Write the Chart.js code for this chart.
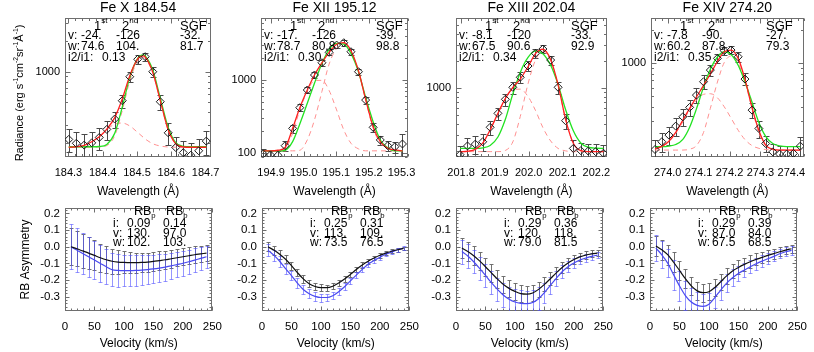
<!DOCTYPE html>
<html>
<head>
<meta charset="utf-8">
<title>EIS line profiles and RB asymmetry</title>
<script src="https://cdn.jsdelivr.net/npm/chart.js@4.4.1/dist/chart.umd.min.js"></script>
<style>
  body { margin: 0; background: #fff; }
  #wrap { position: relative; width: 814px; height: 352px; overflow: hidden; background: #fff; }
  #wrap canvas { position: absolute; }
</style>
</head>
<body>
<div id="wrap"></div>
<script>
// line names
var lineNames = ['Fe X 184.54', 'Fe XII 195.12', 'Fe XIII 202.04', 'Fe XIV 274.20'];

// ---- top row: observed profiles (wavelength A, radiance) ----
var wl1 = [184.301, 184.323, 184.346, 184.368, 184.390, 184.412, 184.435, 184.457, 184.479, 184.502, 184.524, 184.546, 184.568, 184.591, 184.613, 184.635, 184.657, 184.680, 184.702];
var rad1 = [217, 199, 191, 201, 227, 272, 344, 520, 893, 1324, 1403, 1000, 508, 252, 181, 161, 152, 168, 209];
var err1 = [55, 55, 55, 55, 55, 58, 62, 75, 105, 125, 130, 110, 82, 60, 50, 50, 50, 50, 55];
var fitWl1 = [184.301, 184.323, 184.346, 184.368, 184.390, 184.412, 184.435, 184.457, 184.479, 184.502, 184.518, 184.524, 184.546, 184.568, 184.591, 184.613, 184.635, 184.657, 184.680, 184.702];
var dgf1 = [182, 184, 190, 206, 230, 274, 355, 540, 915, 1335, 1430, 1400, 990, 520, 270, 197, 183, 182, 182, 182];
var sgf1 = [184, 184, 184, 184, 185, 194, 249, 450, 880, 1350, 1460, 1425, 1040, 550, 285, 202, 186, 184, 184, 184];
var cmpA1 = [182, 182, 182, 182, 183, 189, 236, 415, 814, 1279, 1382, 1346, 968, 516, 266, 196, 183, 182, 182, 182];
var cmpB1 = [182, 184, 190, 206, 234, 272, 306, 314, 294, 254, 228, 219, 197, 187, 183, 182, 182, 182, 182, 182];

var wl2 = [194.876, 194.898, 194.921, 194.943, 194.966, 194.988, 195.011, 195.033, 195.056, 195.078, 195.101, 195.123, 195.145, 195.168, 195.190, 195.213, 195.235, 195.258, 195.280, 195.303];
var rad2 = [98, 95, 94, 127, 219, 419, 731, 1170, 1721, 2387, 3000, 3228, 2433, 1298, 533, 226, 152, 127, 123, 134];
var err2 = [15, 14, 14, 18, 28, 45, 75, 110, 150, 200, 250, 270, 210, 120, 60, 30, 22, 20, 21, 50];
var dgf2 = [108, 108, 110, 120, 219, 419, 731, 1170, 1721, 2387, 3070, 3228, 2512, 1340, 546, 231, 144, 117, 111, 108];
var sgf2 = [108, 108, 108, 110, 144, 251, 481, 902, 1690, 2625, 3165, 3100, 2312, 1298, 580, 270, 152, 119, 108, 108];
var cmpA2 = [108, 108, 108, 108, 108, 110, 152, 285, 700, 1650, 2705, 3165, 2433, 1340, 533, 219, 137, 115, 108, 108];
var cmpB2 = [108, 108, 108, 115, 187, 390, 700, 980, 990, 720, 390, 208, 137, 115, 108, 108, 108, 108, 108, 108];

var wl3 = [201.797, 201.819, 201.842, 201.864, 201.886, 201.909, 201.931, 201.953, 201.975, 201.998, 202.020, 202.042, 202.065, 202.087, 202.109, 202.132, 202.154, 202.176, 202.198, 202.221];
var rad3 = [183, 229, 240, 255, 369, 527, 755, 1026, 1325, 1769, 2448, 2733, 2061, 1026, 437, 215, 203, 201, 198, 190];
var err3 = [45, 55, 55, 55, 65, 85, 120, 160, 190, 230, 280, 290, 250, 160, 85, 50, 45, 42, 42, 42];
var dgf3 = [198, 200, 210, 246, 345, 528, 774, 1021, 1266, 1734, 2428, 2716, 2081, 1096, 455, 245, 203, 198, 198, 198];
var sgf3 = [215, 215, 215, 218, 232, 288, 453, 864, 1503, 2202, 2603, 2424, 1801, 1099, 582, 337, 247, 222, 216, 215];
var cmpA3 = [198, 198, 198, 198, 198, 198, 204, 254, 485, 1121, 2057, 2548, 2019, 1079, 451, 245, 203, 198, 198, 198];
var cmpB3 = [198, 200, 210, 246, 345, 528, 768, 965, 979, 811, 569, 366, 260, 215, 202, 198, 198, 198, 198, 198];

var wl4 = [273.959, 273.981, 274.004, 274.026, 274.049, 274.071, 274.093, 274.116, 274.138, 274.161, 274.183, 274.205, 274.228, 274.250, 274.273, 274.295, 274.317, 274.340, 274.362, 274.385, 274.407, 274.429];
var rad4 = [165, 194, 223, 269, 327, 398, 515, 681, 869, 1110, 1303, 1321, 1148, 720, 376, 256, 187, 157, 150, 150, 152, 177];
var err4 = [35, 38, 42, 48, 60, 68, 80, 95, 105, 112, 118, 115, 110, 90, 58, 45, 32, 28, 26, 26, 27, 37];
var dgf4 = [167, 176, 196, 236, 305, 390, 495, 630, 800, 1040, 1275, 1321, 1110, 717, 395, 245, 181, 166, 163, 163, 163, 163];
var sgf4 = [175, 175, 177, 183, 204, 263, 386, 608, 885, 1142, 1275, 1202, 961, 680, 443, 290, 217, 187, 178, 175, 175, 175];
var cmpA4 = [163, 163, 163, 163, 163, 166, 179, 236, 390, 677, 1018, 1166, 1005, 677, 390, 232, 179, 166, 163, 163, 163, 163];
var cmpB4 = [167, 175, 194, 232, 294, 379, 463, 523, 530, 486, 403, 318, 247, 203, 179, 169, 165, 163, 163, 163, 163, 163];

// fit parameters printed in the panels
var firstV = ['-24.', '-17.', '-8.1', '-7.8'];
var secondV = ['-126', '-126', '-120', '-90.'];
var sgfV = ['-32.', '-39.', '-33.', '-27.'];
var firstW = ['74.6', '78.7', '67.5', '60.2'];
var secondW = ['104.', '80.8', '90.6', '87.8'];
var sgfW = ['81.7', '98.8', '92.9', '79.3'];
var ratio = ['0.13', '0.30', '0.34', '0.35'];

// axis ranges, top row
var xMinTop = [184.29, 194.869, 201.785, 273.946];
var xMaxTop = [184.716, 195.32, 202.231, 274.44];
var xTicksTop = [[184.3, 184.4, 184.5, 184.6, 184.7], [194.9, 195.0, 195.1, 195.2, 195.3],
                 [201.8, 201.9, 202.0, 202.1, 202.2], [274.0, 274.1, 274.2, 274.3, 274.4]];
var yMinTop = [146, 89, 172.6, 141];
var yMaxTop = [3359, 7020, 6040, 2583];
var yTicksTop = [[1000], [100, 1000], [1000], [1000]];

// ---- bottom row: RB asymmetry vs velocity ----
var vel = [10, 20, 30, 40, 50, 60, 70, 80, 90, 100, 110, 120, 130, 140, 150, 160, 170, 180, 190, 200, 210, 220, 230, 240];
var rbBlack1 = [0.0, -0.012, -0.025, -0.038, -0.052, -0.066, -0.078, -0.087, -0.092, -0.094, -0.095, -0.095, -0.094, -0.092, -0.088, -0.083, -0.078, -0.072, -0.066, -0.06, -0.054, -0.048, -0.043, -0.038];
var rbBlue1 = [0.0, -0.02, -0.04, -0.06, -0.08, -0.1, -0.12, -0.138, -0.142, -0.143, -0.143, -0.142, -0.14, -0.137, -0.133, -0.128, -0.122, -0.115, -0.107, -0.099, -0.09, -0.08, -0.07, -0.06];
var rbBlackErr1 = [0.11, 0.105, 0.1, 0.095, 0.09, 0.085, 0.08, 0.075, 0.07, 0.066, 0.063, 0.06, 0.058, 0.057, 0.056, 0.055, 0.054, 0.053, 0.052, 0.051, 0.05, 0.05, 0.05, 0.05];
var rbBlueErr1 = [0.135, 0.13, 0.125, 0.12, 0.115, 0.11, 0.105, 0.1, 0.097, 0.095, 0.093, 0.091, 0.089, 0.087, 0.085, 0.083, 0.081, 0.079, 0.077, 0.075, 0.073, 0.071, 0.069, 0.067];

var rbBlack2 = [0.0, -0.02, -0.045, -0.075, -0.113, -0.155, -0.193, -0.222, -0.239, -0.246, -0.246, -0.237, -0.218, -0.194, -0.166, -0.137, -0.11, -0.087, -0.068, -0.051, -0.038, -0.027, -0.018, -0.01];
var rbBlue2 = [-0.02, -0.05, -0.087, -0.132, -0.173, -0.218, -0.257, -0.282, -0.298, -0.305, -0.305, -0.294, -0.27, -0.24, -0.205, -0.17, -0.136, -0.105, -0.082, -0.063, -0.045, -0.032, -0.018, -0.008];
var rbBlackErr2 = [0.028, 0.027, 0.026, 0.025, 0.024, 0.023, 0.022, 0.021, 0.02, 0.02, 0.019, 0.019, 0.018, 0.018, 0.017, 0.016, 0.016, 0.015, 0.014, 0.014, 0.013, 0.012, 0.012, 0.011];
var rbBlueErr2 = [0.035, 0.033, 0.032, 0.03, 0.029, 0.028, 0.027, 0.026, 0.025, 0.024, 0.023, 0.022, 0.021, 0.02, 0.019, 0.018, 0.017, 0.016, 0.015, 0.014, 0.013, 0.012, 0.011, 0.01];

var rbBlack3 = [-0.008, -0.029, -0.054, -0.085, -0.12, -0.157, -0.193, -0.225, -0.25, -0.268, -0.282, -0.285, -0.278, -0.256, -0.226, -0.192, -0.157, -0.125, -0.098, -0.077, -0.061, -0.05, -0.043, -0.038];
var rbBlue3 = [-0.029, -0.055, -0.09, -0.13, -0.172, -0.216, -0.255, -0.29, -0.315, -0.332, -0.34, -0.342, -0.335, -0.312, -0.275, -0.232, -0.19, -0.15, -0.12, -0.097, -0.08, -0.068, -0.058, -0.05];
var rbBlackErr3 = [0.06, 0.058, 0.056, 0.055, 0.054, 0.053, 0.053, 0.052, 0.052, 0.052, 0.052, 0.05, 0.048, 0.045, 0.042, 0.038, 0.035, 0.032, 0.029, 0.026, 0.024, 0.022, 0.021, 0.02];
var rbBlueErr3 = [0.072, 0.07, 0.069, 0.068, 0.068, 0.068, 0.07, 0.072, 0.075, 0.078, 0.08, 0.078, 0.074, 0.068, 0.06, 0.052, 0.045, 0.038, 0.032, 0.028, 0.025, 0.023, 0.022, 0.02];

var rbBlack4 = [0.005, -0.018, -0.047, -0.093, -0.142, -0.192, -0.235, -0.265, -0.276, -0.27, -0.245, -0.21, -0.175, -0.145, -0.124, -0.106, -0.09, -0.076, -0.064, -0.052, -0.041, -0.03, -0.02, -0.012];
var rbBlue4 = [-0.008, -0.048, -0.098, -0.168, -0.235, -0.293, -0.332, -0.352, -0.358, -0.345, -0.305, -0.26, -0.218, -0.186, -0.16, -0.14, -0.12, -0.102, -0.086, -0.072, -0.058, -0.042, -0.03, -0.022];
var rbBlackErr4 = [0.06, 0.06, 0.06, 0.06, 0.058, 0.056, 0.055, 0.054, 0.053, 0.052, 0.05, 0.048, 0.046, 0.044, 0.042, 0.04, 0.038, 0.036, 0.034, 0.032, 0.03, 0.028, 0.026, 0.025];
var rbBlueErr4 = [0.08, 0.08, 0.085, 0.09, 0.09, 0.088, 0.085, 0.08, 0.075, 0.07, 0.065, 0.06, 0.055, 0.05, 0.046, 0.042, 0.04, 0.037, 0.034, 0.032, 0.03, 0.028, 0.026, 0.025];

// RB fit numbers printed in the panels
var rbI = [['0.09', '0.14'], ['0.25', '0.31'], ['0.29', '0.36'], ['0.29', '0.39']];
var rbV = [['130.', '97.0'], ['113.', '109.'], ['120.', '118.'], ['87.0', '84.0']];
var rbW = [['102.', '103.'], ['73.5', '76.5'], ['79.0', '81.5'], ['67.5', '68.5']];

var velTicks = [0, 50, 100, 150, 200, 250];
var rbTicks = [0.2, 0.1, 0.0, -0.1, -0.2, -0.3];
var rbMin = -0.386, rbMax = 0.233;

// grouped for the loops below
var wls = [wl1, wl2, wl3, wl4], rads = [rad1, rad2, rad3, rad4], errs = [err1, err2, err3, err4];
var fitWls = [fitWl1, wl2, wl3, wl4];
var dgfs = [dgf1, dgf2, dgf3, dgf4], sgfs = [sgf1, sgf2, sgf3, sgf4];
var cmpAs = [cmpA1, cmpA2, cmpA3, cmpA4], cmpBs = [cmpB1, cmpB2, cmpB3, cmpB4];
var rbBlacks = [rbBlack1, rbBlack2, rbBlack3, rbBlack4], rbBlues = [rbBlue1, rbBlue2, rbBlue3, rbBlue4];
var rbBlackErrs = [rbBlackErr1, rbBlackErr2, rbBlackErr3, rbBlackErr4];
var rbBlueErrs = [rbBlueErr1, rbBlueErr2, rbBlueErr3, rbBlueErr4];

// panel boxes on the page
var topLeft = [65, 261, 456, 651], topW = 156;
var botLeft = [65, 262, 456, 650], botW = 158;

var FONT = '"Liberation Sans", Arial, Helvetica, sans-serif';
Chart.defaults.font.family = FONT;
Chart.defaults.color = '#000';

function pts(xs, ys) {
    var out = [];
    for (var i = 0; i < xs.length; i++) out.push({x: xs[i], y: ys[i]});
    return out;
}

function makeCanvas(left, top, w, h) {
    var c = document.createElement('canvas');
    c.width = w; c.height = h;
    c.style.left = left + 'px'; c.style.top = top + 'px';
    c.style.width = w + 'px'; c.style.height = h + 'px';
    document.getElementById('wrap').appendChild(c);
    return c;
}

// minor tick positions
function stepTicks(min, max, step) {
    var out = [];
    for (var k = Math.ceil(min / step - 1e-6); k * step <= max + 1e-9; k++) out.push(k * step);
    return out;
}
function logTicks(min, max) {
    var out = [];
    for (var e = Math.floor(Math.log10(min)); e <= Math.ceil(Math.log10(max)); e++) {
        for (var m = 1; m < 10; m++) {
            var v = m * Math.pow(10, e);
            if (v >= min && v <= max) out.push(v);
        }
    }
    return out;
}

// text with super/subscripts, left aligned, middle baseline
function drawRich(ctx, parts, x, y, size) {
    var cx = x;
    parts.forEach(function(p) {
        var small = p.sup || p.sub;
        ctx.font = (small ? size * 0.62 : size) + 'px ' + FONT;
        var dy = p.sup ? -size * 0.38 : (p.sub ? size * 0.3 : 0);
        ctx.fillText(p.t, cx, y + dy);
        cx += ctx.measureText(p.t).width;
    });
    return cx - x;
}
function richWidth(ctx, parts, size) {
    var w = 0;
    parts.forEach(function(p) {
        ctx.font = ((p.sup || p.sub) ? size * 0.62 : size) + 'px ' + FONT;
        w += ctx.measureText(p.t).width;
    });
    return w;
}

// box with inward ticks on all four sides (IDL style)
function framePlugin(f) {
    return {
        id: 'frame',
        beforeDatasetsDraw: function(chart) {
            var a = chart.chartArea, ctx = chart.ctx, xs = chart.scales.x, ys = chart.scales.y;
            var L = Math.round(a.left) + 0.5, R = Math.round(a.right) - 0.5;
            var T = Math.round(a.top) + 0.5, B = Math.round(a.bottom) - 0.5;
            ctx.save();
            ctx.strokeStyle = '#6e6e6e';
            ctx.lineWidth = 1;
            ctx.strokeRect(L, T, R - L, B - T);
            ctx.beginPath();
            function xt(v, len) {
                var p = Math.round(xs.getPixelForValue(v)) + 0.5;
                ctx.moveTo(p, B); ctx.lineTo(p, B - len);
                ctx.moveTo(p, T); ctx.lineTo(p, T + len);
            }
            function yt(v, len) {
                var p = Math.round(ys.getPixelForValue(v)) + 0.5;
                ctx.moveTo(L, p); ctx.lineTo(L + len, p);
                ctx.moveTo(R, p); ctx.lineTo(R - len, p);
            }
            f.xMinor.forEach(function(v) { xt(v, f.minorLen); });
            f.xMajor.forEach(function(v) { xt(v, f.majorLen); });
            f.yMinor.forEach(function(v) { yt(v, f.minorLen); });
            f.yMajor.forEach(function(v) { yt(v, f.majorLen); });
            ctx.stroke();
            ctx.restore();
        }
    };
}

// vertical error bars from dataset.errors
var errPlugin = {
    id: 'errbars',
    beforeDatasetsDraw: function(chart) {
        var a = chart.chartArea, ctx = chart.ctx, xs = chart.scales.x, ys = chart.scales.y;
        ctx.save();
        ctx.beginPath();
        ctx.rect(a.left, a.top, a.right - a.left, a.bottom - a.top);
        ctx.clip();
        chart.data.datasets.forEach(function(ds) {
            if (!ds.errors) return;
            ctx.strokeStyle = ds.errColor;
            ctx.lineWidth = 1;
            ctx.beginPath();
            ds.data.forEach(function(p, j) {
                var px = Math.round(xs.getPixelForValue(p.x)) + 0.5;
                var hi = Math.round(ys.getPixelForValue(p.y + ds.errors[j])) + 0.5;
                var lo = Math.round(ys.getPixelForValue(p.y - ds.errors[j])) + 0.5;
                ctx.moveTo(px, hi); ctx.lineTo(px, lo);
                ctx.moveTo(px - ds.capHalf, hi); ctx.lineTo(px + ds.capHalf, hi);
                ctx.moveTo(px - ds.capHalf, lo); ctx.lineTo(px + ds.capHalf, lo);
            });
            ctx.stroke();
        });
        ctx.restore();
    }
};

// printed numbers inside the boxes (+ rotated y label when needed)
function notePlugin(rows, rotated) {
    return {
        id: 'notes',
        afterDraw: function(chart) {
            var a = chart.chartArea, ctx = chart.ctx;
            ctx.save();
            ctx.fillStyle = '#000';
            ctx.textAlign = 'left';
            ctx.textBaseline = 'middle';
            rows.forEach(function(r) {
                drawRich(ctx, r.parts, a.left + r.x, a.top + r.y, r.s || 12);
            });
            if (rotated) {
                var w = richWidth(ctx, rotated.parts, rotated.s);
                ctx.translate(rotated.x, rotated.y);
                ctx.rotate(-Math.PI / 2);
                drawRich(ctx, rotated.parts, -w / 2, 0, rotated.s);
            }
            ctx.restore();
        }
    };
}

function txt(x, y, t, s) { return {x: x, y: y, s: s, parts: [{t: t}]}; }

// ---- top row ----
for (var i = 0; i < 4; i++) {
    (function(i) {
        var cv = makeCanvas(topLeft[i] - 64, 0, 64 + topW + 8, 205);
        var rows = [
            {x: 29, y: 8, s: 13, parts: [{t: '1'}, {t: 'st', sup: true}]},
            {x: 57, y: 8, s: 13, parts: [{t: '2'}, {t: 'nd', sup: true}]},
            txt(115, 8, 'SGF', 13),
            txt(3, 18, 'v:'), txt(16, 18, firstV[i]), txt(51, 18, secondV[i]), txt(115, 18, sgfV[i]),
            txt(3, 28.5, 'w:'), txt(16, 28.5, firstW[i]), txt(51, 28.5, secondW[i]), txt(115, 28.5, sgfW[i]),
            txt(3, 39.5, 'i2/i1:'), txt(37, 39.5, ratio[i])
        ];
        var ylab = null;
        if (i === 0) {
            ylab = {x: 19, y: 93, s: 11, parts: [{t: 'Radiance (erg s'}, {t: '-1', sup: true}, {t: 'cm'}, {t: '-2', sup: true},
                {t: 'sr'}, {t: '-1', sup: true}, {t: 'Å'}, {t: '-1', sup: true}, {t: ')'}]};
        }
        var frame = {
            xMajor: xTicksTop[i], xMinor: stepTicks(xMinTop[i], xMaxTop[i], 0.02),
            yMajor: yTicksTop[i], yMinor: logTicks(yMinTop[i], yMaxTop[i]),
            majorLen: 5, minorLen: 2.5
        };
        new Chart(cv, {
            type: 'scatter',
            data: {
                datasets: [
                    {
                        label: 'Observed', data: pts(wls[i], rads[i]), errors: errs[i], errColor: '#4a4a4a', capHalf: 3,
                        pointStyle: 'rectRot', pointRadius: 4, borderColor: '#1a1a1a', borderWidth: 1,
                        backgroundColor: 'rgba(255,255,255,0)', order: 0
                    },
                    {
                        label: 'Double Gaussian', data: pts(fitWls[i], dgfs[i]), showLine: true, pointRadius: 0,
                        borderColor: '#ff2020', borderWidth: 1.3, cubicInterpolationMode: 'monotone', order: 1
                    },
                    {
                        label: 'SGF', data: pts(fitWls[i], sgfs[i]), showLine: true, pointRadius: 0,
                        borderColor: '#22e322', borderWidth: 1.3, cubicInterpolationMode: 'monotone', order: 2
                    },
                    {
                        label: '1st', data: pts(fitWls[i], cmpAs[i]), showLine: true, pointRadius: 0,
                        borderColor: '#ff9090', borderWidth: 1, borderDash: [5, 4], cubicInterpolationMode: 'monotone', order: 3
                    },
                    {
                        label: '2nd', data: pts(fitWls[i], cmpBs[i]), showLine: true, pointRadius: 0,
                        borderColor: '#ff9090', borderWidth: 1, borderDash: [5, 4], cubicInterpolationMode: 'monotone', order: 3
                    }
                ]
            },
            options: {
                responsive: false,
                animation: false,
                events: [],
                layout: {padding: {left: 0, right: 8, top: 0, bottom: 0}},
                plugins: {
                    legend: {display: false},
                    tooltip: {enabled: false},
                    title: {
                        display: true, text: lineNames[i], fullSize: false,
                        font: {size: 14, weight: 'normal'}, padding: {top: 0, bottom: 1.2}
                    }
                },
                scales: {
                    x: {
                        type: 'linear', min: xMinTop[i], max: xMaxTop[i],
                        afterBuildTicks: function(s) { s.ticks = xTicksTop[i].map(function(v) { return {value: v}; }); },
                        afterFit: function(s) { s.height = 48; },
                        grid: {display: false, drawTicks: false},
                        border: {display: false},
                        ticks: {padding: 9, autoSkip: false, maxRotation: 0, font: {size: 11},
                                callback: function(v) { return v.toFixed(1); }},
                        title: {display: true, text: 'Wavelength (Å)', font: {size: 12}, padding: {top: 0, bottom: 6}}
                    },
                    y: {
                        type: 'logarithmic', min: yMinTop[i], max: yMaxTop[i],
                        afterBuildTicks: function(s) { s.ticks = yTicksTop[i].map(function(v) { return {value: v}; }); },
                        afterFit: function(s) { s.width = 64; },
                        grid: {display: false, drawTicks: false},
                        border: {display: false},
                        ticks: {padding: 5, autoSkip: false, font: {size: 11},
                                callback: function(v) { return String(v); }}
                    }
                }
            },
            plugins: [framePlugin(frame), errPlugin, notePlugin(rows, ylab)]
        });
    })(i);
}

// ---- bottom row ----
for (var j = 0; j < 4; j++) {
    (function(i) {
        var cv = makeCanvas(botLeft[i] - 64, 190, 64 + botW + 8, 162);
        var rows = [
            {x: 69, y: 4, s: 12.5, parts: [{t: 'RB'}, {t: 'p', sub: true}]},
            {x: 101, y: 4, s: 12.5, parts: [{t: 'RB'}, {t: 'b', sub: true}]},
            txt(48, 16, 'i:'), txt(62, 16, rbI[i][0]), txt(98, 16, rbI[i][1]),
            txt(48, 25.5, 'v:'), txt(62, 25.5, rbV[i][0]), txt(98, 25.5, rbV[i][1]),
            txt(48, 35, 'w:'), txt(62, 35, rbW[i][0]), txt(98, 35, rbW[i][1])
        ];
        var frame = {
            xMajor: velTicks, xMinor: stepTicks(0, 250, 10),
            yMajor: rbTicks, yMinor: stepTicks(rbMin, rbMax, 0.02),
            majorLen: 4, minorLen: 2
        };
        new Chart(cv, {
            type: 'scatter',
            data: {
                datasets: [
                    {
                        label: 'RB black', data: pts(vel, rbBlacks[i]), errors: rbBlackErrs[i], errColor: 'rgba(105,105,105,0.95)', capHalf: 2,
                        showLine: true, pointRadius: 0, borderColor: '#111', borderWidth: 1.2,
                        cubicInterpolationMode: 'monotone', order: 0
                    },
                    {
                        label: 'RB blue', data: pts(vel, rbBlues[i]), errors: rbBlueErrs[i], errColor: 'rgba(80,80,255,0.6)', capHalf: 2,
                        showLine: true, pointRadius: 0, borderColor: '#4a4af0', borderWidth: 1.2,
                        cubicInterpolationMode: 'monotone', order: 1
                    }
                ]
            },
            options: {
                responsive: false,
                animation: false,
                events: [],
                layout: {padding: {left: 0, right: 8, top: 18, bottom: 0}},
                plugins: {legend: {display: false}, tooltip: {enabled: false}, title: {display: false}},
                scales: {
                    x: {
                        type: 'linear', min: 0, max: 250,
                        afterBuildTicks: function(s) { s.ticks = velTicks.map(function(v) { return {value: v}; }); },
                        afterFit: function(s) { s.height = 41; },
                        grid: {display: false, drawTicks: false},
                        border: {display: false},
                        ticks: {padding: 9, autoSkip: false, maxRotation: 0, font: {size: 11.5},
                                callback: function(v) { return String(v); }},
                        title: {display: true, text: 'Velocity (km/s)', font: {size: 12}, padding: {top: 0, bottom: 1}}
                    },
                    y: {
                        type: 'linear', min: rbMin, max: rbMax,
                        afterBuildTicks: function(s) { s.ticks = rbTicks.map(function(v) { return {value: v}; }); },
                        afterFit: function(s) { s.width = 64; },
                        grid: {display: false, drawTicks: false},
                        border: {display: false},
                        ticks: {padding: 5, autoSkip: false, font: {size: 11.5},
                                callback: function(v) { return v.toFixed(1); }},
                        title: {display: i === 0, text: 'RB Asymmetry', font: {size: 12}, padding: {top: 17, bottom: 0}}
                    }
                }
            },
            plugins: [framePlugin(frame), errPlugin, notePlugin(rows, null)]
        });
    })(j);
}
</script>
</body>
</html>
